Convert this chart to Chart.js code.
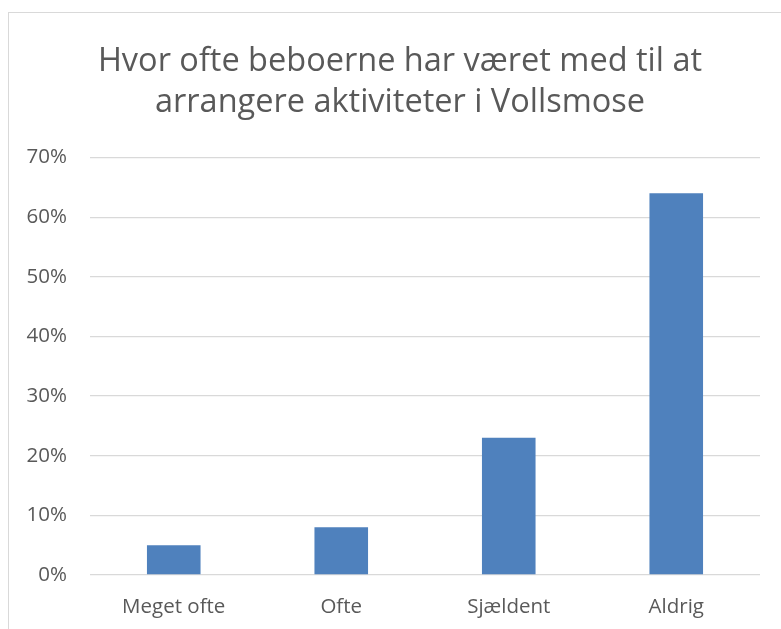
<!DOCTYPE html>
<html>
<head>
<meta charset="utf-8">
<script src="https://cdn.jsdelivr.net/npm/chart.js@4"></script>
<style>
  html, body { margin: 0; padding: 0; background: #fff; }
  #wrap { position: relative; width: 781px; height: 629px; overflow: hidden; }
  #frame { position: absolute; left: 8px; top: 12px; width: 800px; height: 700px; border: 1px solid #d9d9d9; box-sizing: border-box; }
  canvas { position: absolute; left: 0; top: 0; }
</style>
</head>
<body>
<div id="wrap">
  <div id="frame"></div>
  <canvas id="chart" width="781" height="629"></canvas>
</div>
<script>
const titleLines = ["Hvor ofte beboerne har været med til at", "arrangere aktiviteter i Vollsmose"];
const categories = ["Meget ofte", "Ofte", "Sjældent", "Aldrig"];
const shares = [5, 8, 23, 64];
const yMax = 70;
const yStep = 10;

const fontFamily = "'Open Sans', 'Liberation Sans', sans-serif";

// the title in the original is centred on the frame, not on the canvas
const shiftTitle = {
  id: "shiftTitle",
  afterLayout(chart) {
    if (chart.titleBlock) chart.titleBlock.left += 40;
  }
};

const ctx = document.getElementById("chart").getContext("2d");
const chart = new Chart(ctx, {
  type: "bar",
  data: {
    labels: categories,
    datasets: [
      { label: "Andel", data: shares, backgroundColor: "#4f81bd", categoryPercentage: 1, barPercentage: 0.32 }
    ]
  },
  options: {
    responsive: false,
    animation: false,
    layout: { padding: { left: 0, right: 21, top: 0, bottom: 0 } },
    plugins: {
      legend: { display: false },
      tooltip: { enabled: false },
      title: {
        display: true,
        text: titleLines,
        color: "#595959",
        font: { family: fontFamily, size: 32.5, weight: "normal", lineHeight: 1.27 },
        padding: { top: 41, bottom: 34 }
      }
    },
    scales: {
      x: {
        grid: { display: false, drawTicks: false },
        border: { display: false },
        ticks: { color: "#595959", font: { family: fontFamily, size: 20.5 }, padding: 20 },
        afterFit: s => { s.height = 54; }
      },
      y: {
        min: 0,
        max: yMax,
        grid: { color: "#d9d9d9", lineWidth: 1.3, drawTicks: false },
        border: { display: false },
        ticks: {
          stepSize: yStep,
          color: "#595959",
          font: { family: fontFamily, size: 20.5 },
          padding: 23,
          callback: v => v + "%"
        },
        afterFit: s => { s.width = 90; }
      }
    }
  },
  plugins: [shiftTitle]
});
</script>
</body>
</html>
